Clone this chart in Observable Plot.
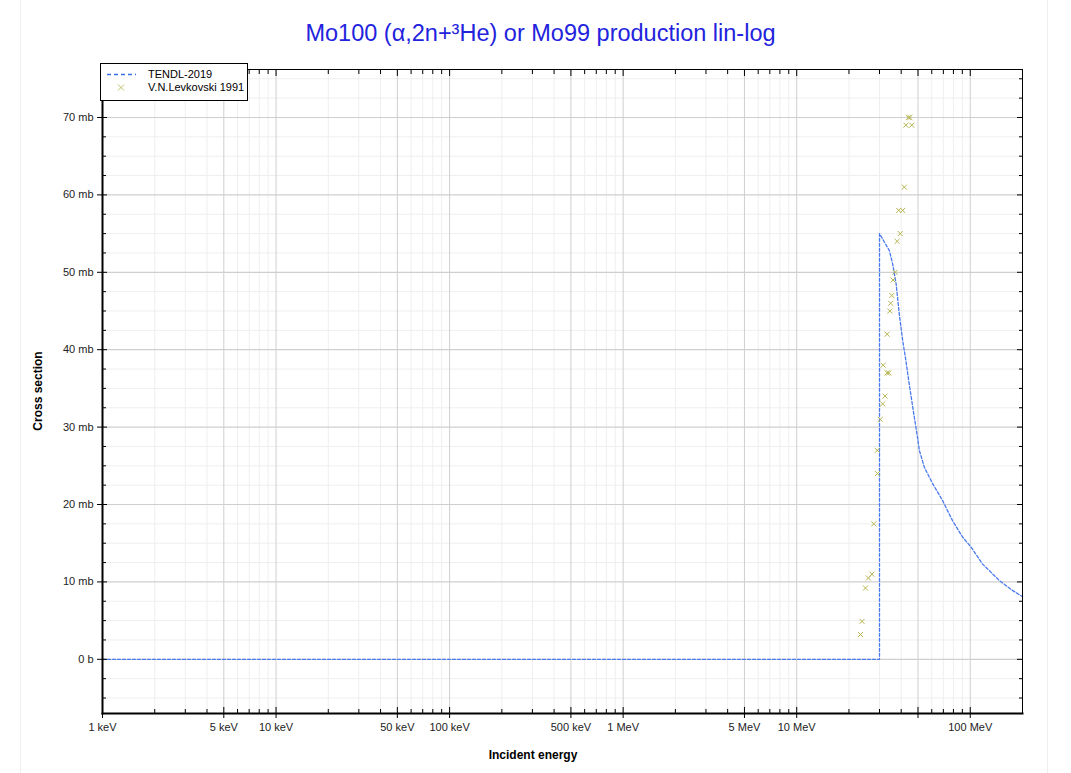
<!DOCTYPE html>
<html><head><meta charset="utf-8">
<script src="https://cdn.jsdelivr.net/npm/d3@7"></script>
<script src="https://cdn.jsdelivr.net/npm/@observablehq/plot@0.6"></script>
<style>
body{margin:0;background:#fff;font-family:"Liberation Sans",Arial,sans-serif;}
#wrap{position:relative;width:1071px;height:773px;overflow:hidden;background:#fff;}
#box{position:absolute;left:20px;top:0;width:1026px;height:773px;border-left:1px solid #eee;border-right:1px solid #eee;}
#chart{position:absolute;left:0;top:0;}
#title{position:absolute;left:0;width:1081px;top:20px;text-align:center;font-size:23.5px;color:#2323dd;white-space:nowrap;}
#xlabel{position:absolute;left:20px;width:1026px;top:748px;text-align:center;font-size:12px;font-weight:bold;color:#000;}
#ylabel{position:absolute;left:38px;top:391px;transform:translate(-50%,-50%) rotate(-90deg);font-size:12px;font-weight:bold;color:#000;white-space:nowrap;}
#legend{position:absolute;left:100px;top:63px;width:146px;height:36px;border:1px solid #000;background:#fff;font-size:11px;color:#000;}
#legend .row{position:absolute;left:0;height:13px;line-height:13px;white-space:nowrap;}
#legend .row span{position:absolute;left:47px;}
#legend svg{position:absolute;left:4px;top:0;}
</style></head><body>
<div id="wrap">
  <div id="box"></div>
  <div id="chart"></div>
  <div id="title">Mo100 (α,2n+³He) or Mo99 production lin-log</div>
  <div id="ylabel">Cross section</div>
  <div id="xlabel">Incident energy</div>
  <div id="legend">
    <div class="row" style="top:4px"><svg width="36" height="13"><line x1="2" x2="31" y1="6.5" y2="6.5" stroke="#3b6de8" stroke-width="1.5" stroke-dasharray="4,3"/></svg><span>TENDL-2019</span></div>
    <div class="row" style="top:17px"><svg width="36" height="13"><path d="M13,3.5L19,9.5M13,9.5L19,3.5" stroke="#c2c270" stroke-width="1"/></svg><span>V.N.Levkovski 1991</span></div>
  </div>
</div>
<script>
// TENDL-2019 evaluation (energy in MeV, cross section in mb)
const tendlEnergy = [0.001, 30, 30, 34.2, 35.7, 37.4, 39.0, 40.8, 42.7, 44.2, 46.9, 49.8, 50.9, 54.4, 60.7, 69.3, 79.1, 90.3, 101, 117.8, 146.8, 175, 200];
const tendlXS     = [0,     0,  55, 52.8, 51.1, 48.5, 44.6, 41.2, 38.4, 36.0, 32.2, 28.5, 27.0, 24.8, 22.7, 20.5, 17.9, 15.8, 14.5, 12.3, 10.2, 8.9, 8.1];

// V.N.Levkovski 1991 experimental points (MeV, mb)
const levEnergy = [23.3, 23.8, 24.9, 25.9, 27.1, 27.8, 29.1, 29.2, 30.3, 31.3, 31.5, 32.3, 33.2, 33.9, 33.2, 34.4, 34.8, 35.3, 35.9, 36.9, 37.9, 38.7, 39.5, 40.8, 41.7, 42.6, 44.0, 44.9, 46.0];
const levXS     = [3.2,  4.9,  9.2,  10.5, 11.0, 17.5, 27,   24,   31,   33,   38,   34,   37,   37,   42,   45,   46,   47,   49,   50,   54,   58,   55,   58,   61,   69,   70,   70,   69];

// axis ticks
const xMajorTicks  = [0.001, 0.005, 0.01, 0.05, 0.1, 0.5, 1, 5, 10, 50, 100];
const xTickLabels  = ["1 keV", "5 keV", "10 keV", "50 keV", "100 keV", "500 keV", "1 MeV", "5 MeV", "10 MeV", "", "100 MeV"];
const yMajorTicks  = [0, 10, 20, 30, 40, 50, 60, 70];
const yTickLabels  = ["0 b", "10 mb", "20 mb", "30 mb", "40 mb", "50 mb", "60 mb", "70 mb"];
const xDomain = [0.001, 200];
const yDomain = [-7, 76.2];

const tendl = tendlEnergy.map((e, i) => ({e, xs: tendlXS[i]}));
const lev = levEnergy.map((e, i) => ({e, xs: levXS[i]}));
const xLabelRows = xMajorTicks.map((t, i) => ({t, label: xTickLabels[i]}));
const yLabelRows = yMajorTicks.map((t, i) => ({t, label: yTickLabels[i]}));

const decades = [0.001, 0.01, 0.1, 1, 10, 100];
const xMinorTicks = [];
for (const d of decades) for (const m of [2, 3, 4, 6, 7, 8, 9]) {
  const v = +(d * m).toPrecision(3);
  if (v <= xDomain[1] && !xMajorTicks.includes(v)) xMinorTicks.push(v);
}
const yMinorTicks = [];
for (let v = -5; v <= 75; v += 2.5) if (!yMajorTicks.includes(v)) yMinorTicks.push(v);

const tick = (ticks, anchor, size) =>
  (anchor === "left" || anchor === "right" ? Plot.axisY : Plot.axisX)(ticks, {anchor, tickSize: size, text: null, label: null, stroke: "#000"});

const chart = Plot.plot({
  width: 1071,
  height: 773,
  marginLeft: 102,
  marginRight: 49,
  marginTop: 69,
  marginBottom: 60,
  style: {fontFamily: "'Liberation Sans', Arial, sans-serif", fontSize: "11px", color: "#000", background: "transparent"},
  x: {type: "log", domain: xDomain},
  y: {domain: yDomain},
  marks: [
    Plot.gridX(xMinorTicks, {stroke: "#efefef", strokeOpacity: 1}),
    Plot.gridY(yMinorTicks, {stroke: "#efefef", strokeOpacity: 1}),
    Plot.gridX(xMajorTicks, {stroke: "#cfcfcf", strokeOpacity: 1}),
    Plot.gridY(yMajorTicks, {stroke: "#cfcfcf", strokeOpacity: 1, strokeWidth: 1.2}),
    Plot.line(tendl, {x: "e", y: "xs", stroke: "#4a78ee", strokeWidth: 1.3, strokeDasharray: "3,2"}),
    Plot.dot(lev, {x: "e", y: "xs", symbol: "times", r: 2.4, stroke: "#b5b550", strokeWidth: 1}),
    Plot.frame({stroke: "#000", strokeWidth: 1}),
    Plot.frame({anchor: "left", stroke: "#000", strokeWidth: 2}),
    Plot.frame({anchor: "bottom", stroke: "#000", strokeWidth: 2}),
    // left axis
    tick(yMajorTicks, "left", 5),
    tick(yMajorTicks, "left", -5),
    tick(yMinorTicks, "left", -4),
    Plot.text(yLabelRows, {y: "t", text: "label", frameAnchor: "left", textAnchor: "end", dx: -9, fill: "#222", fontSize: 11}),
    // right axis
    tick(yMajorTicks, "right", -6),
    tick(yMinorTicks, "right", -4),
    // bottom axis
    tick(xMajorTicks, "bottom", 5),
    tick(xMajorTicks, "bottom", -6),
    tick(xMinorTicks, "bottom", -4),
    Plot.text(xLabelRows, {x: "t", text: "label", frameAnchor: "bottom", lineAnchor: "top", dy: 10, fill: "#222", fontSize: 11}),
    // top axis
    tick(xMajorTicks, "top", -6),
    tick(xMinorTicks, "top", -4)
  ]
});
document.getElementById("chart").appendChild(chart);
</script>
</body></html>
